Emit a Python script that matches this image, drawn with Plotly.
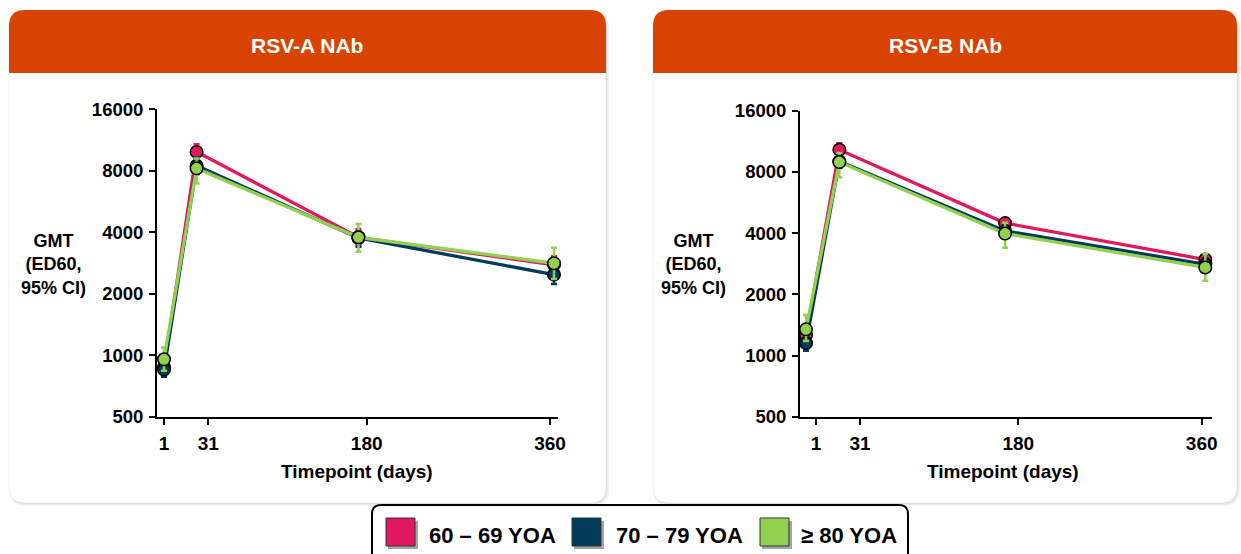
import math
import plotly.graph_objects as go

# ---------------- data ----------------
days = [1, 31, 180, 360]
x_tick_labels = ["1", "31", "180", "360"]
y_tick_vals = [500, 1000, 2000, 4000, 8000, 16000]
y_tick_labels = ["500", "1000", "2000", "4000", "8000", "16000"]
group_names = ["60 – 69 YOA", "70 – 79 YOA", "≥ 80 YOA"]
panel_titles = ["RSV-A NAb", "RSV-B NAb"]

# RSV-A NAb GMT and 95% CI
rsva_60_69 = [870, 9900, 3780, 2770]
rsva_60_69_hi = [960, 10800, 4150, 3050]
rsva_60_69_lo = [790, 9050, 3450, 2520]
rsva_70_79 = [850, 8470, 3750, 2480]
rsva_70_79_hi = [930, 9300, 4050, 2700]
rsva_70_79_lo = [785, 7700, 3400, 2230]
rsva_80 = [955, 8220, 3780, 2820]
rsva_80_hi = [1090, 9200, 4390, 3360]
rsva_80_lo = [840, 6940, 3210, 2360]

# RSV-B NAb GMT and 95% CI
rsvb_60_69 = [1260, 10280, 4480, 2965]
rsvb_60_69_hi = [1380, 11080, 4710, 3150]
rsvb_60_69_lo = [1150, 9500, 4250, 2790]
rsvb_70_79 = [1150, 9010, 4100, 2810]
rsvb_70_79_hi = [1250, 9700, 4350, 3000]
rsvb_70_79_lo = [1055, 8350, 3850, 2620]
rsvb_80 = [1345, 8940, 3980, 2710]
rsvb_80_hi = [1580, 9900, 4500, 3170]
rsvb_80_lo = [1180, 7540, 3390, 2330]

# ---------------- style ----------------
W, H = 1241, 554
FONT = "Liberation Sans, Arial, sans-serif"
colors = ["#E2185F", "#003B5C", "#92D050"]
ORANGE = "#D84400"


def fx(x):
    return x / W


def fy(y):
    return 1 - y / H


def rrect(x0, y0, x1, y1, r, top_only=False):
    rx, ry = r / W, r / H
    X0, X1 = fx(x0), fx(x1)
    Y0, Y1 = fy(y0), fy(y1)  # Y0 top (larger), Y1 bottom
    p = f"M {X0},{Y0 - ry} Q {X0},{Y0} {X0 + rx},{Y0} L {X1 - rx},{Y0} Q {X1},{Y0} {X1},{Y0 - ry} "
    if top_only:
        p += f"L {X1},{Y1} L {X0},{Y1} Z"
    else:
        p += (f"L {X1},{Y1 + ry} Q {X1},{Y1} {X1 - rx},{Y1} L {X0 + rx},{Y1} "
              f"Q {X0},{Y1} {X0},{Y1 + ry} Z")
    return p


fig = go.Figure()
shapes = []
annotations = []

panels = [
    dict(
        series=[(rsva_60_69, rsva_60_69_hi, rsva_60_69_lo),
                (rsva_70_79, rsva_70_79_hi, rsva_70_79_lo),
                (rsva_80, rsva_80_hi, rsva_80_lo)],
        card=(9, 10, 606, 503), plot=(157, 109.3, 558, 416.7),
        x_first=164, x_last=554, tick_px=[164, 208.3, 366.7, 550],
        ytitle_x=53, title_x=307, xtitle_x=357,
    ),
    dict(
        series=[(rsvb_60_69, rsvb_60_69_hi, rsvb_60_69_lo),
                (rsvb_70_79, rsvb_70_79_hi, rsvb_70_79_lo),
                (rsvb_80, rsvb_80_hi, rsvb_80_lo)],
        card=(653, 10, 1237, 503), plot=(800, 110.7, 1212, 416.7),
        x_first=806, x_last=1205.3, tick_px=[816, 860, 1018.3, 1201.7],
        ytitle_x=693, title_x=945, xtitle_x=1003,
    ),
]

layout_axes = {}
for i, pn in enumerate(panels):
    cx0, cy0, cx1, cy1 = pn["card"]
    # card shadow
    shapes.append(dict(type="path", xref="paper", yref="paper", layer="below",
                       path=rrect(cx0 + 1, cy0 + 2, cx1 + 3, cy1 + 3, 16),
                       fillcolor="rgba(0,0,0,0.05)", line=dict(width=0)))
    shapes.append(dict(type="path", xref="paper", yref="paper", layer="below",
                       path=rrect(cx0 + 0.5, cy0 + 1, cx1 + 1.5, cy1 + 1.5, 16),
                       fillcolor="rgba(0,0,0,0.06)", line=dict(width=0)))
    shapes.append(dict(type="path", xref="paper", yref="paper", layer="below",
                       path=rrect(cx0, cy0, cx1, cy1, 16),
                       fillcolor="white", line=dict(color="rgba(0,0,0,0.06)", width=1)))
    shapes.append(dict(type="path", xref="paper", yref="paper", layer="below",
                       path=rrect(cx0, cy0, cx1, 73, 16, top_only=True),
                       fillcolor=ORANGE, line=dict(width=0)))
    annotations.append(dict(text=f"<b>{panel_titles[i]}</b>", xref="paper", yref="paper",
                            x=fx(pn["title_x"]), y=fy(45), xanchor="center", yanchor="middle",
                            showarrow=False, font=dict(family=FONT, size=21, color="white")))
    annotations.append(dict(text="<b>GMT<br>(ED60,<br>95% CI)</b>", xref="paper", yref="paper",
                            x=fx(pn["ytitle_x"]), y=fy(264), xanchor="center", yanchor="middle",
                            align="center", showarrow=False,
                            font=dict(family=FONT, size=18, color="black")))
    annotations.append(dict(text="<b>Timepoint (days)</b>", xref="paper", yref="paper",
                            x=fx(pn["xtitle_x"]), y=fy(471), xanchor="center", yanchor="middle",
                            showarrow=False, font=dict(family=FONT, size=19, color="black")))

    px0, py0, px1, py1 = pn["plot"]
    slope = (pn["x_last"] - pn["x_first"]) / (days[-1] - days[0])
    xr = [days[0] + (px0 - pn["x_first"]) / slope, days[0] + (px1 - pn["x_first"]) / slope]
    tickvals = [days[0] + (t - pn["x_first"]) / slope for t in pn["tick_px"]]
    xa = "xaxis" if i == 0 else "xaxis2"
    ya = "yaxis" if i == 0 else "yaxis2"
    layout_axes[xa] = dict(
        domain=[fx(px0), fx(px1)], range=xr, tickvals=tickvals, ticktext=x_tick_labels,
        ticks="outside", ticklen=6, tickwidth=2, tickcolor="black",
        showline=True, linewidth=2, linecolor="black", showgrid=False, zeroline=False,
        tickfont=dict(family=FONT, size=19, color="black", weight="bold"),
        ticklabelstandoff=2, automargin=False,
        anchor="y" if i == 0 else "y2",
        fixedrange=True,
    )
    layout_axes[ya] = dict(
        domain=[fy(py1), fy(py0)], type="log",
        range=[math.log10(y_tick_vals[0]), math.log10(y_tick_vals[-1])],
        tickvals=y_tick_vals, ticktext=y_tick_labels,
        ticks="outside", ticklen=6, tickwidth=2, tickcolor="black",
        showline=True, linewidth=2, linecolor="black", showgrid=False, zeroline=False,
        tickfont=dict(family=FONT, size=18.5, color="black", weight="bold"),
        ticklabelstandoff=2, automargin=False,
        anchor="x" if i == 0 else "x2",
        fixedrange=True,
    )

    for j, (vals, hi, lo) in enumerate(pn["series"]):
        fig.add_trace(go.Scatter(
            x=days, y=vals, mode="lines+markers",
            xaxis="x" if i == 0 else "x2", yaxis="y" if i == 0 else "y2",
            name=group_names[j], showlegend=False, cliponaxis=False,
            line=dict(color=colors[j], width=3.3),
            marker=dict(size=12.5, color=colors[j], line=dict(color="black", width=1.5)),
            error_y=dict(type="data", symmetric=False,
                         array=[h - v for h, v in zip(hi, vals)],
                         arrayminus=[v - l for v, l in zip(vals, lo)],
                         color=colors[j], thickness=2.5, width=3),
        ))

# ---------------- custom legend ----------------
shapes.append(dict(type="path", xref="paper", yref="paper", layer="above",
                   path=rrect(372, 505, 908, 566, 9),
                   fillcolor="white", line=dict(color="black", width=2)))
leg_sq = [386, 572, 760]
leg_tx = [427, 614, 799]
for j in range(3):
    x0 = leg_sq[j]
    shapes.append(dict(type="rect", xref="paper", yref="paper", layer="above",
                       x0=fx(x0 + 2), x1=fx(x0 + 32), y0=fy(521), y1=fy(549),
                       fillcolor="rgba(0,0,0,0.35)", line=dict(width=0)))
    shapes.append(dict(type="rect", xref="paper", yref="paper", layer="above",
                       x0=fx(x0), x1=fx(x0 + 29), y0=fy(518), y1=fy(546),
                       fillcolor=colors[j], line=dict(color="#333333", width=1)))
    annotations.append(dict(text=f"<b>{group_names[j]}</b>", xref="paper", yref="paper",
                            x=fx(leg_tx[j]), y=fy(535), xanchor="left", yanchor="middle",
                            showarrow=False, font=dict(family=FONT, size=22, color="black")))

fig.update_layout(
    width=W, height=H, margin=dict(l=0, r=0, t=0, b=0, pad=0, autoexpand=False),
    paper_bgcolor="white", plot_bgcolor="rgba(0,0,0,0)",
    shapes=shapes, annotations=annotations, showlegend=False,
    **layout_axes,
)

fig.write_html("out.html",
               config={"displayModeBar": False},
               post_script="document.body.style.margin='0px';document.body.style.overflow='hidden';")
